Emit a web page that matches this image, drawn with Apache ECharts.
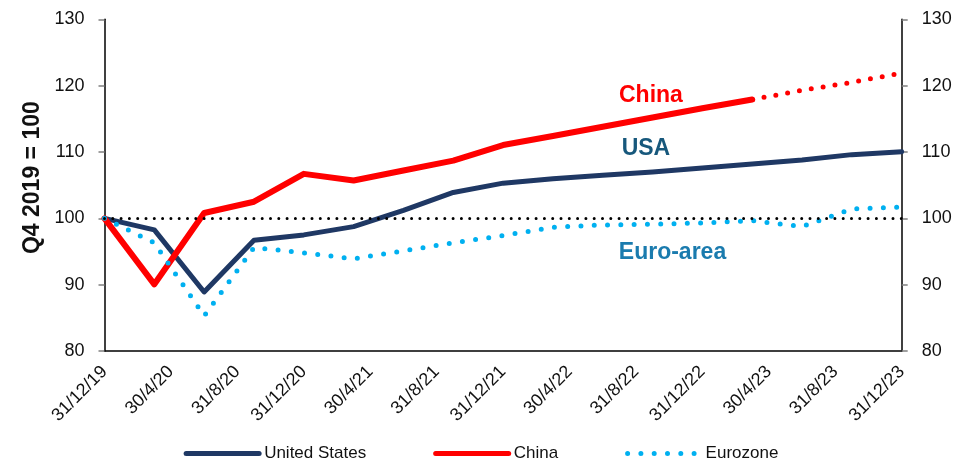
<!DOCTYPE html>
<html>
<head>
<meta charset="utf-8">
<script src="https://cdn.jsdelivr.net/npm/echarts@6/dist/echarts.min.js"></script>
<style>
html,body{margin:0;padding:0;background:#fff;}
#chart{width:962px;height:461px;}
</style>
</head>
<body>
<div id="chart"></div>
<script>
// Quarter-end dates (observations)
var quarterDates = ['2019-12-31','2020-03-31','2020-06-30','2020-09-30','2020-12-31',
  '2021-03-31','2021-06-30','2021-09-30','2021-12-31','2022-03-31','2022-06-30',
  '2022-09-30','2022-12-31','2023-03-31','2023-06-30','2023-09-30','2023-12-31'];
// X tick labels (every 4 months)
var tickLabels = ['31/12/19','30/4/20','31/8/20','31/12/20','30/4/21','31/8/21','31/12/21',
  '30/4/22','31/8/22','31/12/22','30/4/23','31/8/23','31/12/23'];
var usValues = [100, 98.25, 88.9, 96.7, 97.5, 98.75, 101.2, 103.9, 105.3, 105.95, 106.5,
  107.0, 107.6, 108.2, 108.8, 109.6, 110.05];
var chinaValues = [100, 90.05, 100.8, 102.5, 106.7, 105.7, 107.2, 108.7, 111.05, 112.4,
  113.8, 115.2, 116.6, 117.9];
var chinaForecastDates = ['2023-03-31','2023-06-30','2023-09-30','2023-12-31'];
var chinaForecastValues = [117.9, 119.3, 120.5, 121.9];
var euroValues = [100, 96.3, 85.3, 95.6, 94.8, 93.9, 95.1, 96.3, 97.4, 98.65, 99.0, 99.1,
  99.3, 99.65, 98.75, 101.4, 101.7];
var baseline = 100;
// Annotation labels: [text, month offset, value]
var annChina = ['China', 32.9, 118.5];
var annUSA = ['USA', 32.6, 110.5];
var annEuro = ['Euro-area', 34.2, 94.8];

function monthOffset(d) {
  var p = d.split('-');
  return (parseInt(p[0], 10) - 2019) * 12 + parseInt(p[1], 10) - 12;
}
function pairs(dates, vals) {
  return vals.map(function (v, i) { return [monthOffset(dates[i]), v]; });
}
var FONT = '"Liberation Sans", Arial, sans-serif';
function ann(a, color) {
  return {
    silent: true,
    symbol: 'circle', symbolSize: 0,
    itemStyle: {color: 'rgba(0,0,0,0)'},
    label: {show: true, position: 'inside', formatter: a[0], color: color,
      fontSize: 23, fontWeight: 'bold', fontFamily: FONT},
    data: [{coord: [a[1], a[2]]}]
  };
}

var chart = echarts.init(document.getElementById('chart'));
var yCommon = {
  type: 'value', min: 80, max: 130, interval: 10,
  axisLine: {show: true, lineStyle: {color: '#000', width: 1.5}},
  axisTick: {show: true, length: 6, lineStyle: {color: '#808080', width: 1.5}},
  axisLabel: {fontSize: 18, color: '#111', fontFamily: FONT, margin: 20},
  splitLine: {show: false}
};
chart.setOption({
  animation: false,
  backgroundColor: '#fff',
  grid: {left: 104.5, right: 60.3, top: 19.3, bottom: 110},
  legend: {
    data: ['United States', 'China', 'Eurozone'],
    left: 'center', top: 440, itemWidth: 73, itemHeight: 14, itemGap: 67,
    itemTextGap: 6,
    textStyle: {fontSize: 17, color: '#111', fontFamily: FONT},
    lineStyle: {width: 5},
    itemStyle: {color: 'rgba(0,0,0,0)', borderColor: 'rgba(0,0,0,0)', borderWidth: 0, opacity: 0}
  },
  xAxis: {
    type: 'value', min: 0, max: 48, interval: 4,
    axisLine: {show: true, onZero: false, lineStyle: {color: '#000', width: 1.5}},
    axisTick: {show: false},
    splitLine: {show: false},
    axisLabel: {
      rotate: 45, fontSize: 18, color: '#111', fontFamily: FONT, margin: 18,
      formatter: function (v) { return tickLabels[Math.round(v / 4)] || ''; }
    }
  },
  yAxis: [
    Object.assign({}, yCommon, {
      position: 'left',
      name: 'Q4 2019 = 100', nameLocation: 'middle', nameRotate: 90, nameGap: 60,
      nameMoveOverlap: false,
      nameTextStyle: {fontSize: 23, fontWeight: 'bold', color: '#111', fontFamily: FONT,
        padding: [0, 0, 0, 15]}
    }),
    Object.assign({}, yCommon, {position: 'right'})
  ],
  series: [
    {
      name: 'United States', type: 'line', yAxisIndex: 0, showSymbol: false, symbol: 'none',
      data: pairs(quarterDates, usValues),
      lineStyle: {color: '#1F3864', width: 5, cap: 'round', join: 'round'},
      itemStyle: {color: '#1F3864'},
      markPoint: ann(annUSA, '#17587C')
    },
    {
      name: 'China', type: 'line', yAxisIndex: 0, showSymbol: false, symbol: 'none',
      data: pairs(quarterDates.slice(0, chinaValues.length), chinaValues),
      lineStyle: {color: '#FF0000', width: 6, cap: 'round', join: 'round'},
      itemStyle: {color: '#FF0000'},
      markPoint: ann(annChina, '#FF0000')
    },
    {
      name: 'China forecast', type: 'line', yAxisIndex: 0, showSymbol: false, symbol: 'none',
      data: pairs(chinaForecastDates, chinaForecastValues),
      lineStyle: {color: '#FF0000', width: 5, type: [0, 12], cap: 'round'},
      itemStyle: {color: '#FF0000'}
    },
    {
      name: 'Eurozone', type: 'line', yAxisIndex: 0, showSymbol: false, symbol: 'none',
      data: pairs(quarterDates, euroValues),
      lineStyle: {color: '#00B0F0', width: 5, type: [0, 13.3], cap: 'round'},
      itemStyle: {color: '#00B0F0'},
      markPoint: ann(annEuro, '#1A7BAE'),
      markLine: {
        silent: true, symbol: ['none', 'none'], label: {show: false},
        lineStyle: {color: '#000', width: 3, type: [0, 8.3], cap: 'round'},
        data: [{yAxis: baseline}]
      }
    }
  ]
});
</script>
</body>
</html>
